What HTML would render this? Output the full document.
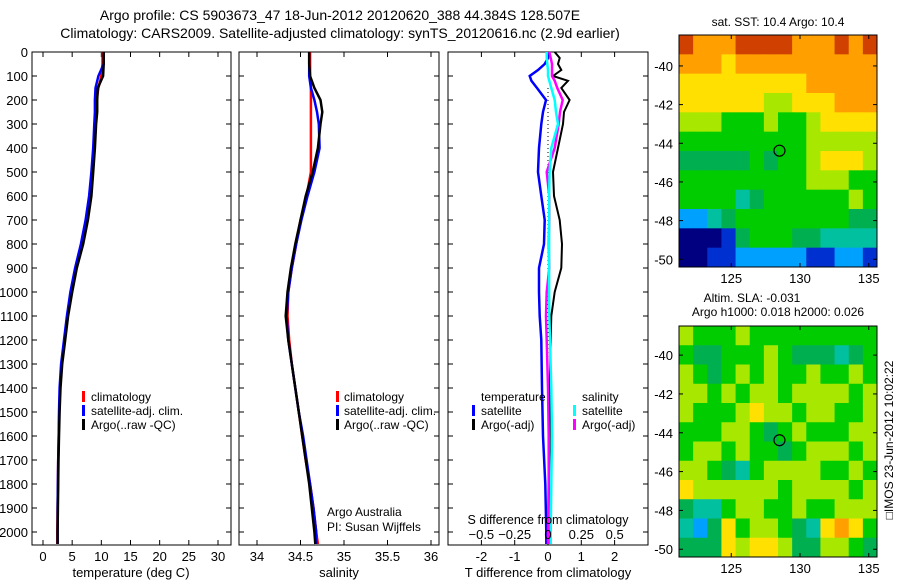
<!DOCTYPE html>
<html><head><meta charset="utf-8"><style>
body{margin:0;background:#fff;width:900px;height:580px;overflow:hidden}
svg text{font-family:"Liberation Sans",sans-serif;fill:#000}
</style></head><body>
<svg id="c" width="900" height="580" xmlns="http://www.w3.org/2000/svg">
<text x="340" y="20" font-size="14" text-anchor="middle">Argo profile: CS 5903673_47 18-Jun-2012 20120620_388 44.384S 128.507E</text>
<text x="340" y="38" font-size="14" text-anchor="middle">Climatology: CARS2009. Satellite-adjusted climatology: synTS_20120616.nc (2.9d earlier)</text>
<g id="g"></g>
</svg>
<script>
// ---- data ----
const depths = [0,50,100,150,200,250,300,400,500,600,700,800,900,1000,1100,1200,1300,1400,1500,1600,1700,1800,1900,2000,2050];
const argoT = [10.4,10.4,10.3,9.4,9.3,9.3,9.1,8.9,8.6,8.3,7.7,6.9,5.8,5.0,4.3,3.8,3.3,3.0,2.85,2.75,2.65,2.6,2.55,2.5,2.5];
const climT = [10.2,10.2,10.0,9.5,9.2,9.1,9.0,8.8,8.5,8.0,7.4,6.6,5.6,4.8,4.2,3.7,3.2,2.9,2.8,2.7,2.6,2.55,2.5,2.45,2.45];
const satT = [10.4,10.4,9.5,9.0,8.9,8.9,8.8,8.6,8.3,7.9,7.3,6.5,5.5,4.7,4.1,3.6,3.1,2.85,2.75,2.7,2.6,2.55,2.5,2.5,2.5];
const argoS = [34.60,34.60,34.61,34.66,34.73,34.75,34.73,34.70,34.64,34.56,34.50,34.44,34.39,34.35,34.33,34.36,34.40,34.44,34.48,34.52,34.56,34.60,34.63,34.66,34.67];
const climS = [34.61,34.61,34.61,34.62,34.62,34.62,34.62,34.62,34.62,34.57,34.50,34.45,34.40,34.36,34.35,34.37,34.40,34.44,34.48,34.52,34.56,34.61,34.65,34.68,34.70];
const satS = [34.60,34.60,34.60,34.62,34.66,34.69,34.71,34.72,34.66,34.58,34.51,34.45,34.40,34.36,34.34,34.36,34.40,34.44,34.48,34.53,34.57,34.61,34.65,34.68,34.68];
const diffDepths = [0,25,50,75,100,120,150,200,250,300,400,500,600,700,800,900,1000,1100,1200,1400,1600,1800,2000,2050];
const dTsat = [0,0,-0.1,-0.3,-0.55,-0.5,-0.33,-0.06,-0.15,-0.2,-0.27,-0.3,-0.2,-0.1,-0.12,-0.27,-0.27,-0.25,-0.2,-0.18,-0.15,-0.08,-0.05,-0.05];
const dTargo = [0.2,0.35,0.3,0.4,0.15,0.6,0.4,0.65,0.48,0.45,0.3,0.15,0.18,0.35,0.42,0.4,0.2,0.1,0.08,0.05,0.05,0.03,0.02,0.02];
const dSsat = [-0.01,-0.01,-0.005,0,0,0.01,0.025,0.05,0.06,0.075,0.025,0.012,0.008,0.008,0.008,0.008,0.008,0.01,0.015,0.025,0.03,0.025,0.02,0.02];
const dSargo = [0.01,0.02,0.03,0.03,0.03,0.05,0.07,0.11,0.09,0.08,0.05,-0.01,0.01,0.01,0.005,0.01,-0.01,-0.015,-0.01,0,0.005,0.005,0,0];
const depthTicks = [0,100,200,300,400,500,600,700,800,900,1000,1100,1200,1300,1400,1500,1600,1700,1800,1900,2000];
const tempTicks = [0,5,10,15,20,25,30];
const salTicks = [34,34.5,35,35.5,36];
const dTTicks = [-2,-1,0,1,2];
const dSTicks = [-0.5,-0.25,0,0.25,0.5];
const sstGrid = ["98889999888989","88878888888888","77777777788888","77777766777888","66655565567777","55555555566666","44444545567776","55555555566655","55553455555565","22345555555544","00014555443333","00112222211221"];
const slaGrid = ["65556555555555","54455565444345","65456565565565","66565665666656","65556766566556","55566545655566","56656554566656","66543566665565","76666665666656","43356655655666","32475665437875","44476776446654"];
const palette = ["#000080","#0030d0","#00a0ff","#00c0a0","#00b050","#00cc00","#a8e800","#ffe000","#ffa000","#d04000"];
const latTicks = [-40,-42,-44,-46,-48,-50];
const lonTicks = [125,130,135];

const NS="http://www.w3.org/2000/svg", G=document.getElementById('g');
function mk(t,a,p){const e=document.createElementNS(NS,t);for(const k in a)e.setAttribute(k,a[k]);(p||G).appendChild(e);return e;}
const top0=52, bot=545;
const yD = d => top0 + d*0.24;
const xT = v => 43 + v*5.833;
const xS = v => 257 + (v-34)*87;
const xdT = v => 548 + v*33.3;
const xdS = v => 548 + v*133.3;

function frame(x0,x1,name){
  const r=mk('rect',{x:x0,y:top0,width:x1-x0,height:bot-top0,fill:'none',stroke:'#000','stroke-width':1});
  
  
  depthTicks.forEach(d=>{mk('line',{x1:x0,x2:x0+5,y1:yD(d),y2:yD(d),stroke:'#000'});mk('line',{x1:x1,x2:x1-5,y1:yD(d),y2:yD(d),stroke:'#000'});});
}
function xticks(vals,fx,lbl,y){
  vals.forEach(v=>{const x=fx(v);mk('line',{x1:x,x2:x,y1:top0,y2:top0+5,stroke:'#000'});mk('line',{x1:x,x2:x,y1:bot,y2:bot-5,stroke:'#000'});
    if(lbl){const t=mk('text',{x:x,y:y,'font-size':13,'text-anchor':'middle'});t.textContent=lbl(v);
    
    }});
}
function line(ds,vs,fx,color,name,w){
  const pts=ds.map((d,i)=>fx(vs[i]).toFixed(1)+','+yD(d).toFixed(1)).join(' ');
  const p=mk('polyline',{points:pts,fill:'none',stroke:color,'stroke-width':w||2.5,'stroke-linejoin':'miter'});
  
  
}
function txt(x,y,s,size,name,anchor){const t=mk('text',{x:x,y:y,'font-size':size,'text-anchor':anchor||'start'});t.textContent=s;
  
  return t;}
function legend(bx,tx,y,color,label){mk('rect',{x:bx-1,y:y-10,width:3,height:11,fill:color});txt(tx,y,label,12,'legend-entry');}

// panel 1
frame(32,231,'temperature-panel');
depthTicks.forEach(d=>{txt(28,yD(d)+5,String(d),13,'y-tick-label','end');});
xticks(tempTicks,xT,v=>String(v),561);
line(depths,climT,xT,'#f00','clim-temperature-line');
line(depths,satT,xT,'#00f','sat-temperature-line');
line(depths,argoT,xT,'#000','argo-temperature-line');
txt(131,577,'temperature (deg C)',13,'x-axis-title-temperature','middle');
legend(83,91,401,'#f00','climatology');legend(83,91,415,'#00f','satellite-adj. clim.');legend(83,91,429,'#000','Argo(..raw -QC)');

// panel 2
frame(239,439,'salinity-panel');
xticks(salTicks,xS,v=>String(v),561);
line(depths,climS,xS,'#f00','clim-salinity-line');
line(depths,satS,xS,'#00f','sat-salinity-line');
line(depths,argoS,xS,'#000','argo-salinity-line');
txt(339,577,'salinity',13,'x-axis-title-salinity','middle');
legend(337,344,401,'#f00','climatology');legend(337,344,415,'#00f','satellite-adj. clim.');legend(337,344,429,'#000','Argo(..raw -QC)');
txt(327,516,'Argo Australia',12,'credit-line-1');txt(327,531,'PI: Susan Wijffels',12,'credit-line-2');

// panel 3
frame(448,648,'difference-panel');
xticks(dTTicks,xdT,v=>String(v),561);
mk('line',{x1:548,x2:548,y1:yD(150),y2:yD(2050),stroke:'#000','stroke-dasharray':'1,3'});
line(diffDepths,dTsat,xdT,'#00f','sat-temp-diff-line');
line(diffDepths,dTargo,xdT,'#000','argo-temp-diff-line',2);
line(diffDepths,dSargo,xdS,'#f0f','argo-sal-diff-line');
line(diffDepths,dSsat,xdS,'#0ff','sat-sal-diff-line');
dSTicks.forEach(v=>{txt(xdS(v),539,v===0?'0':String(v).replace('-','\u2212').replace(/^(\u2212?)0\./,'$10.'),13,'s-tick-label','middle');});
txt(548,524,'S difference from climatology',12.5,'s-axis-title','middle');
txt(548,577,'T difference from climatology',13,'x-axis-title-tdiff','middle');
txt(481,401,'temperature',12,'legend-title-temperature');txt(582,401,'salinity',12,'legend-title-salinity');
legend(473,481,415,'#00f','satellite');legend(473,481,429,'#000','Argo(-adj)');
legend(574,582,415,'#0ff','satellite');legend(574,582,429,'#f0f','Argo(-adj)');

// maps
function map(y0,y1,grid,name,latTop,latBot){
  const x0=679,x1=877,rows=grid.length,cols=grid[0].length,cw=(x1-x0)/cols,ch=(y1-y0)/rows;
  const g=mk('g',{});
  
  
  grid.forEach((row,r)=>{[...row].forEach((c,k)=>{mk('rect',{x:(x0+k*cw).toFixed(2),y:(y0+r*ch).toFixed(2),width:(cw+0.5).toFixed(2),height:(ch+0.5).toFixed(2),fill:palette[+c]},g);});});
  mk('rect',{x:x0,y:y0,width:x1-x0,height:y1-y0,fill:'none',stroke:'#000'});
  const yL=l=>y0+(latTop-l)/(latTop-latBot)*(y1-y0);
  const xL=l=>x0+(l-121.2)/(135.6-121.2)*(x1-x0);
  latTicks.forEach(l=>{const y=yL(l);mk('line',{x1:x0,x2:x0+4,y1:y,y2:y,stroke:'#000'});mk('line',{x1:x1,x2:x1-4,y1:y,y2:y,stroke:'#000'});txt(673,y+5,String(l),13,'map-lat-label','end');});
  lonTicks.forEach(l=>{const x=xL(l);mk('line',{x1:x,x2:x,y1:y0,y2:y0+4,stroke:'#000'});mk('line',{x1:x,x2:x,y1:y1,y2:y1-4,stroke:'#000'});txt(x,y1+16,String(l),13,'map-lon-label','middle');});
  const c=mk('circle',{cx:xL(128.507),cy:yL(-44.384),r:5.5,fill:'none',stroke:'#000','stroke-width':1.2});
  
  
}
map(35,267,sstGrid,'sst-map',-38.4,-50.4);
map(326,557,slaGrid,'sla-map',-38.5,-50.4);
txt(778,26,'sat. SST: 10.4 Argo: 10.4',12,'sst-map-title','middle');
txt(752,302,'Altim. SLA: -0.031',12,'sla-map-title-1','middle');
txt(778,316,'Argo h1000: 0.018 h2000: 0.026',12,'sla-map-title-2','middle');
const v=txt(0,0,'\u25A1IMOS 23-Jun-2012 10:02:22',12,'imos-timestamp','middle');
v.setAttribute('transform','translate(893,440) rotate(-90)');
</script>
</body></html>
